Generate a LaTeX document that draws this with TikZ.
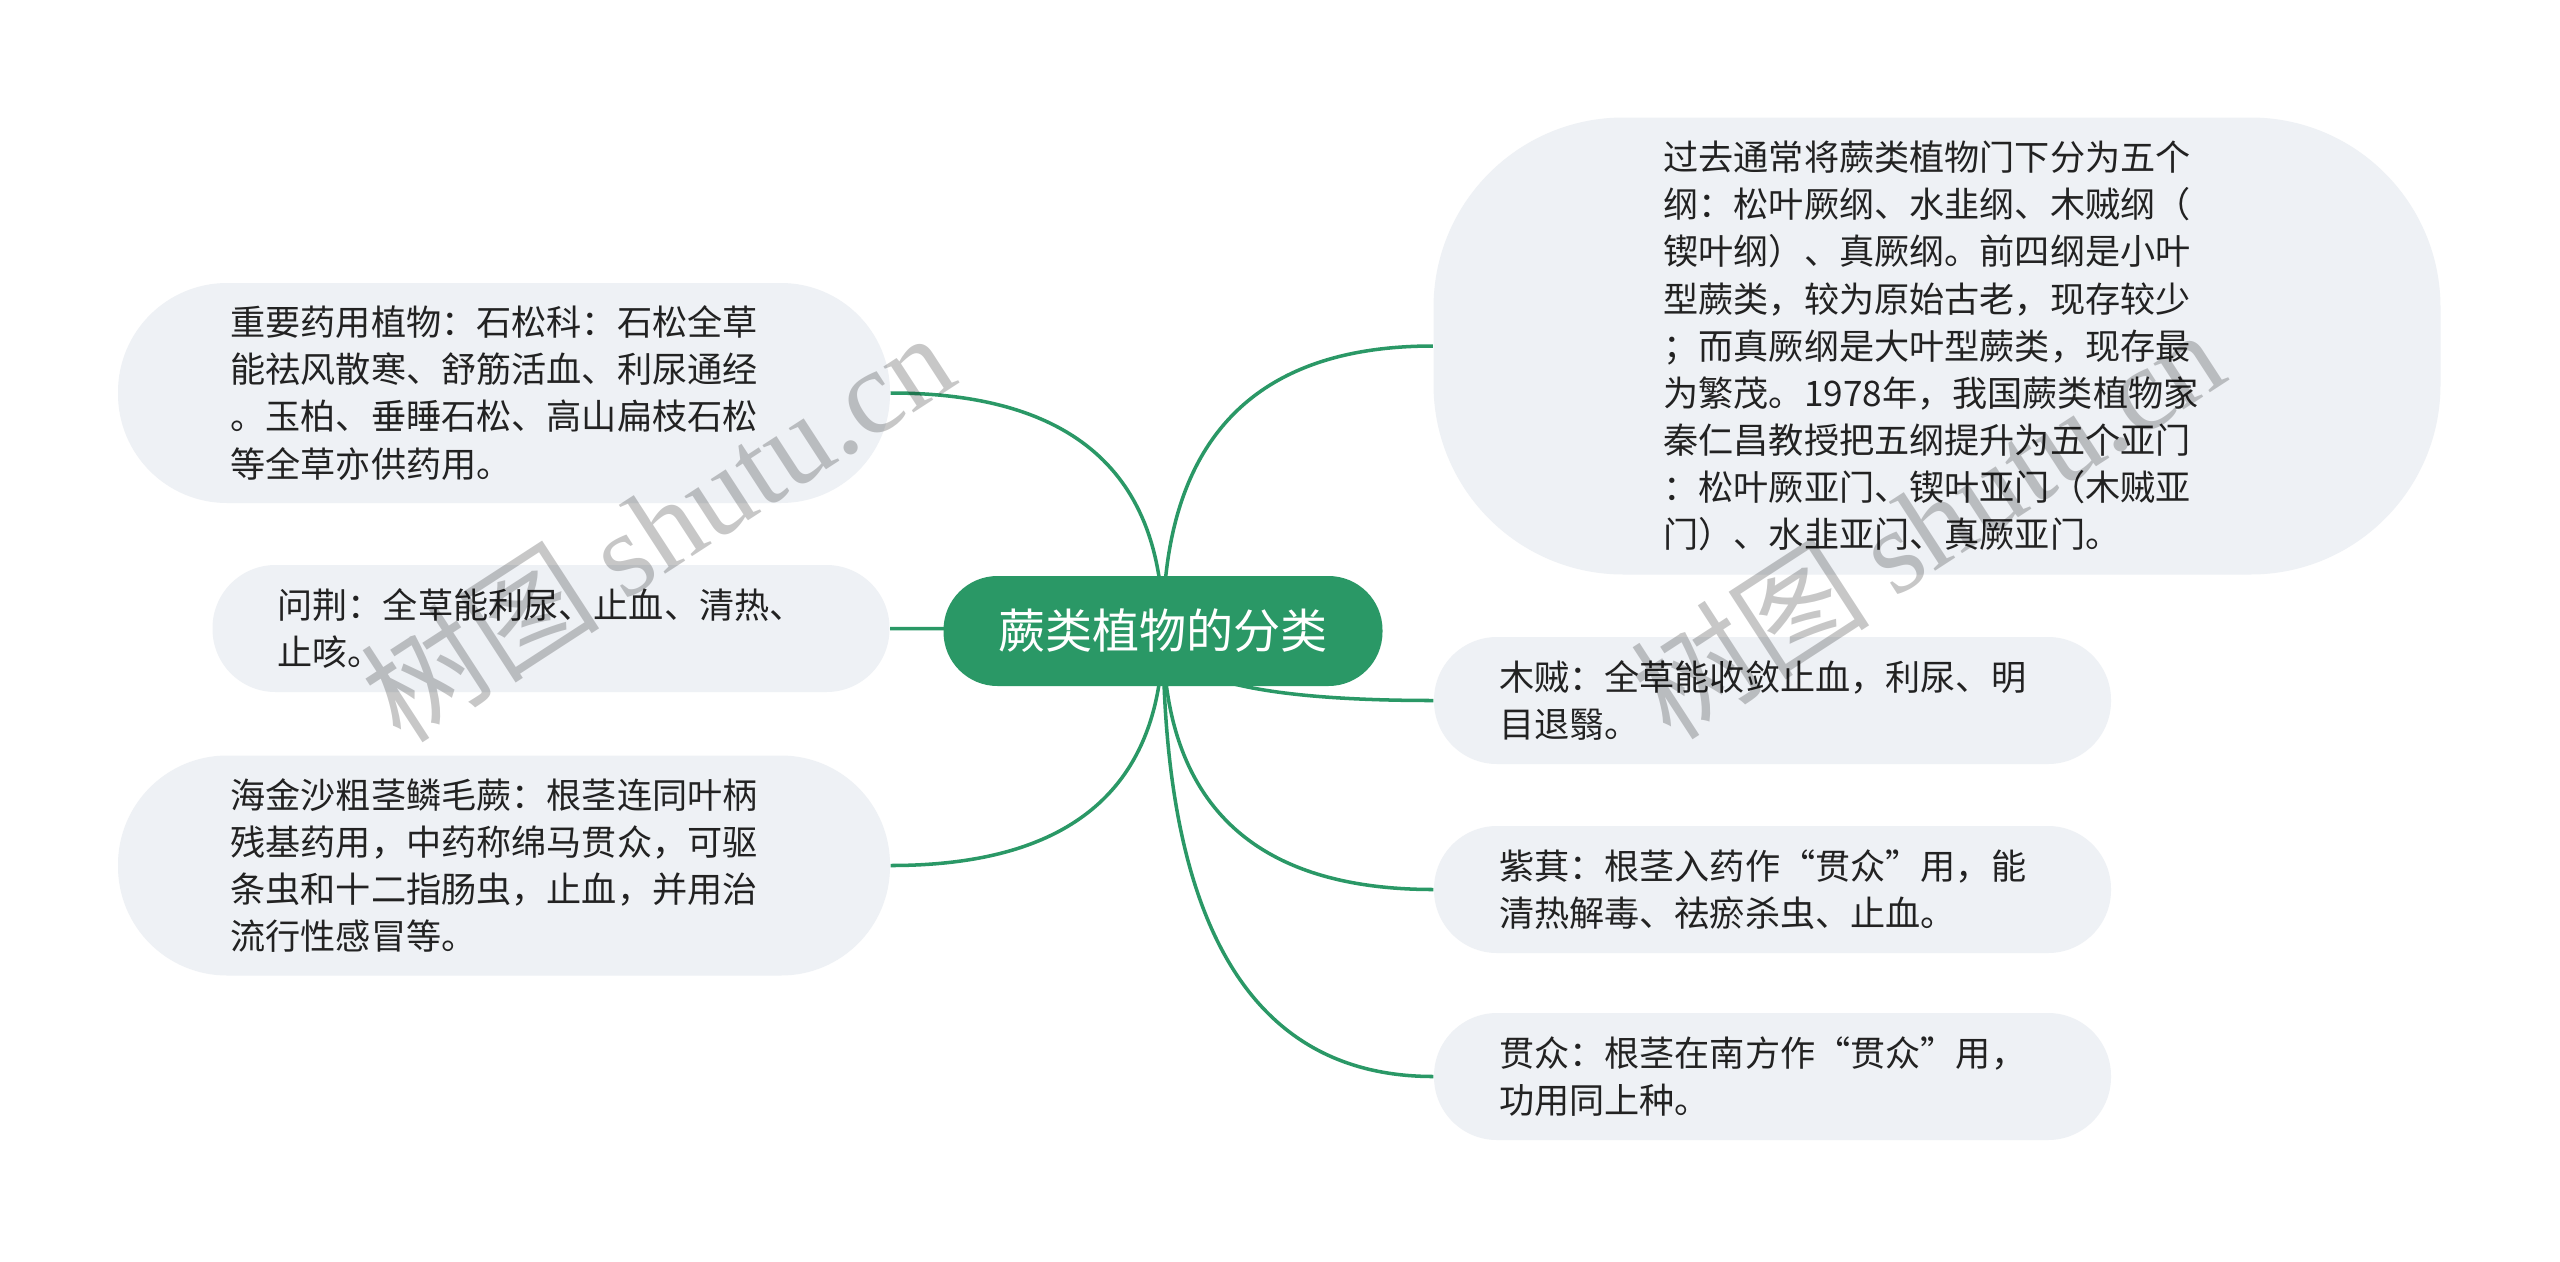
\documentclass[tikz,border=0pt]{standalone}
\usepackage{fontspec}
\setmainfont{Noto Sans CJK SC}
\newfontfamily\wmserif{Liberation Serif}
\usetikzlibrary{calc}
\usetikzlibrary{backgrounds}
\definecolor{green1}{RGB}{42,152,102}
\definecolor{bubble}{RGB}{238,241,245}
\definecolor{ink}{RGB}{34,34,34}

\tikzset{
	rootbox/.style={fill=green1, text=white, rounded corners=0.54cm, minimum width=4.39cm, minimum height=1.10cm, inner sep=0pt, font=\fontsize{13.4}{16}\selectfont},
	leafbox/.style={fill=bubble, text=ink, text width=5.47cm, align=left, inner sep=0pt, font=\fontsize{10}{13.4}\selectfont},
	twoline/.style={leafbox, minimum width=6.77cm, minimum height=1.27cm, rounded corners=0.63cm},
	fourline/.style={leafbox, minimum width=7.72cm, minimum height=2.20cm, rounded corners=1.09cm},
	bigline/.style={leafbox, minimum width=10.07cm, minimum height=4.57cm, rounded corners=1.9cm},
	link/.style={draw=green1, line width=1pt},
	wmark/.style={text=black, opacity=0.22, rotate=33, inner sep=0pt, font=\fontsize{34}{34}\selectfont}
}

\begin{document}
\begin{tikzpicture}
	\useasboundingbox (0,0) rectangle (25.6,-12.61);

	% centre
	\node[rootbox] (root) at (11.63,-6.31) {蕨类植物的分类};

	% right side
	\node[bigline] (tr) at (19.37,-3.46) {过去通常将蕨类植物门下分为五个\\
		纲：松叶厥纲、水韭纲、木贼纲（\\
		锲叶纲）、真厥纲。前四纲是小叶\\
		型蕨类，较为原始古老，现存较少\\
		；而真厥纲是大叶型蕨类，现存最\\
		为繁茂。1978年，我国蕨类植物家\\
		秦仁昌教授把五纲提升为五个亚门\\
		：松叶厥亚门、锲叶亚门（木贼亚\\
		门）、水韭亚门、真厥亚门。};
	\node[twoline] (mz) at (17.725,-7.005) {木贼：全草能收敛止血，利尿、明\\目退翳。};
	\node[twoline] (zq) at (17.725,-8.895) {紫萁：根茎入药作“贯众”用，能\\清热解毒、祛瘀杀虫、止血。};
	\node[twoline] (gz) at (17.725,-10.765) {贯众：根茎在南方作“贯众”用，\\功用同上种。};

	% left side
	\node[fourline] (zy) at (5.04,-3.93) {重要药用植物：石松科：石松全草\\
		能祛风散寒、舒筋活血、利尿通经\\
		。玉柏、垂睡石松、高山扁枝石松\\
		等全草亦供药用。};
	\node[twoline] (wj) at (5.51,-6.285) {问荆：全草能利尿、止血、清热、\\止咳。};
	\node[fourline] (hj) at (5.04,-8.655) {海金沙粗茎鳞毛蕨：根茎连同叶柄\\
		残基药用，中药称绵马贯众，可驱\\
		条虫和十二指肠虫，止血，并用治\\
		流行性感冒等。};

	\begin{scope}[on background layer]
		\fill[white] (0,0) rectangle (25.6,-12.61);
		\foreach \leaf in {tr,mz,zq,gz}
		{
			\draw[link] (root.center) .. controls ($(root.center)!2/3!(root.center |- \leaf.west)$) and ($(\leaf.west)!2/3!(root.center |- \leaf.west)$) .. (\leaf.west);
		}
		\foreach \leaf in {zy,wj,hj}
		{
			\draw[link] (root.center) .. controls ($(root.center)!2/3!(root.center |- \leaf.east)$) and ($(\leaf.east)!2/3!(root.center |- \leaf.east)$) .. (\leaf.east);
		}
	\end{scope}

	% watermarks
	\node[wmark] (wm1) at (6.57,-5.26) {树图 {\wmserif shutu.cn}};
	\node[wmark] (wm2) at (19.27,-5.23) {树图 {\wmserif shutu.cn}};
\end{tikzpicture}
\end{document}
